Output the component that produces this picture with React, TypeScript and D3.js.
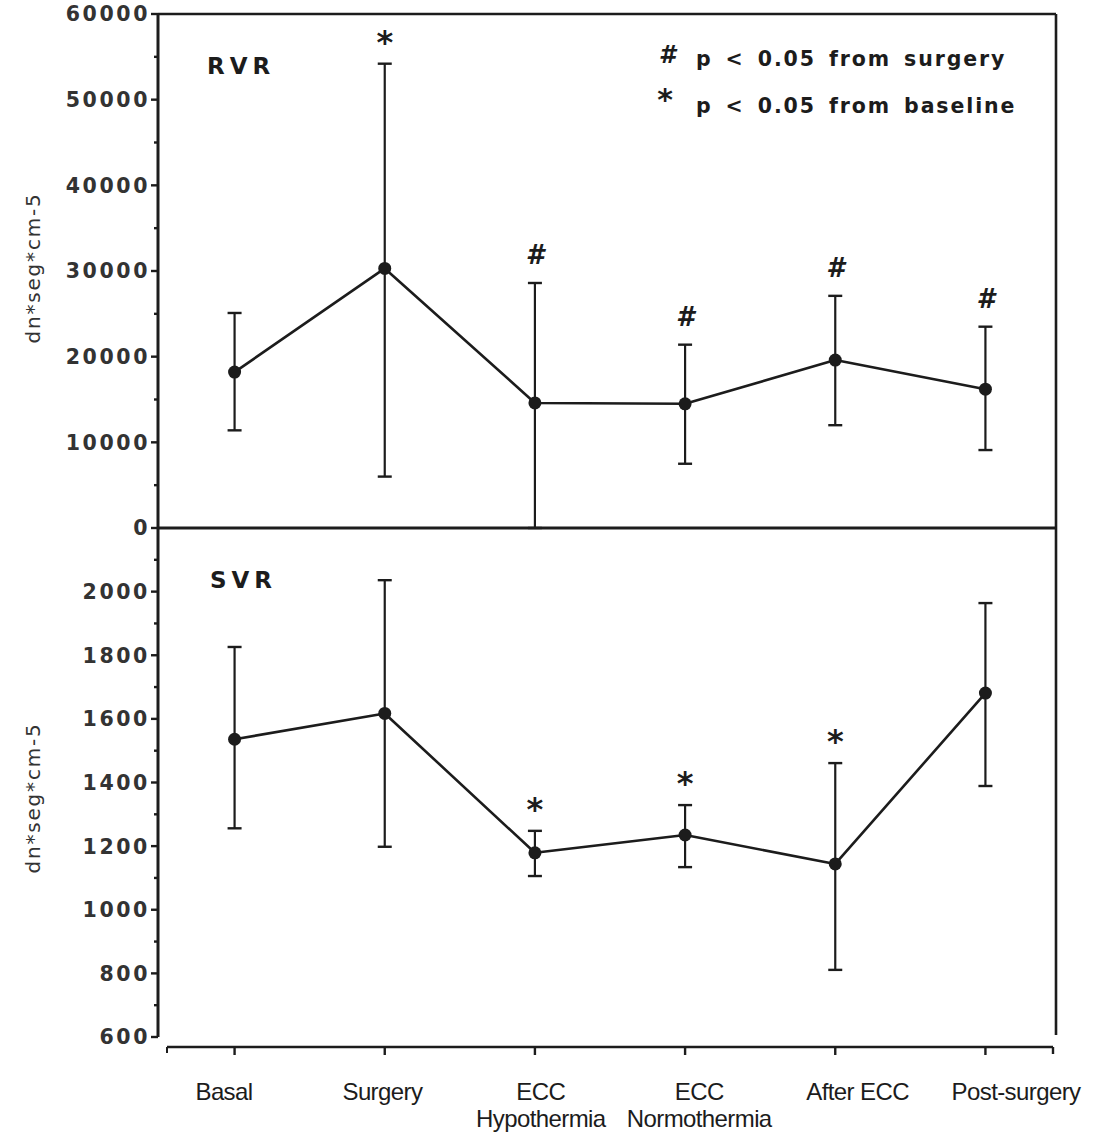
import React from "react";
import * as d3 from "d3";

// Category labels (two lines per category)
const catLine1 = ["Basal", "Surgery", "ECC", "ECC", "After ECC", "Post-surgery"];
const catLine2 = ["", "", "Hypothermia", "Normothermia", "", ""];

// Renal vascular resistance (dn*seg*cm-5): mean, upper and lower error limits
const rvrMean = [18200, 30300, 14600, 14500, 19600, 16200];
const rvrUpper = [25100, 54200, 28600, 21400, 27100, 23500];
const rvrLower = [11400, 6000, 0, 7500, 12000, 9100];
const rvrMarks = ["", "*", "#", "#", "#", "#"];

// Systemic vascular resistance (dn*seg*cm-5)
const svrMean = [1536, 1617, 1179, 1235, 1144, 1681];
const svrUpper = [1826, 2036, 1248, 1329, 1461, 1964];
const svrLower = [1256, 1198, 1106, 1134, 811, 1389];
const svrMarks = ["", "", "*", "*", "*", ""];

const rvrTicks = [0, 10000, 20000, 30000, 40000, 50000, 60000];
const svrTicks = [600, 800, 1000, 1200, 1400, 1600, 1800, 2000];

const legendLines = [
  { sym: "#", text: "p < 0.05 from surgery" },
  { sym: "*", text: "p < 0.05 from baseline" },
];

const W = 1095;
const H = 1139;
const INK = "#1c1c1c";
const LEFT = 158;
const RIGHT = 1056;
const TOP = 14;
const MID = 528;
const BOTTOM = 1037;
const XAXIS_Y = 1047;

const idx = catLine1.map((_, i) => i);
const x = d3.scalePoint<number>().domain(idx).range([167, 1053]).padding(0.45);
const xLabel = d3.scalePoint<number>().domain(idx).range([224, 1016]);
const yTop = d3.scaleLinear().domain([0, 60000]).range([MID, TOP]);
const yBot = d3.scaleLinear().domain([600, 2200]).range([BOTTOM, MID]);

const tickFont = "'DejaVu Sans', sans-serif";

function Series({
  mean, upper, lower, marks, y,
}: {
  mean: number[]; upper: number[]; lower: number[]; marks: string[];
  y: d3.ScaleLinear<number, number>;
}) {
  const line = d3
    .line<number>()
    .x((_, i) => x(i) as number)
    .y((d) => y(d));
  return (
    <g>
      {idx.map((i) => {
        const cx = x(i) as number;
        return (
          <g key={i}>
            <line x1={cx} x2={cx} y1={y(lower[i])} y2={y(upper[i])} stroke={INK} strokeWidth={2.2} />
            <line x1={cx - 7} x2={cx + 7} y1={y(upper[i])} y2={y(upper[i])} stroke={INK} strokeWidth={2.4} />
            <line x1={cx - 7} x2={cx + 7} y1={y(lower[i])} y2={y(lower[i])} stroke={INK} strokeWidth={2.4} />
          </g>
        );
      })}
      <path d={line(mean) || ""} fill="none" stroke={INK} strokeWidth={2.6} strokeLinejoin="round" />
      {idx.map((i) => (
        <circle key={i} cx={x(i) as number} cy={y(mean[i])} r={6.5} fill={INK} />
      ))}
      {idx.map((i) => {
        const m = marks[i];
        if (!m) return null;
        const cy = y(upper[i]) - 28;
        return m === "*" ? (
          <text key={i} x={x(i) as number} y={cy + 17} textAnchor="middle" fontFamily={tickFont}
            fontWeight="bold" fontSize={32} fill={INK}>*</text>
        ) : (
          <text key={i} x={x(i) as number} y={cy + 9.5} textAnchor="middle" fontFamily={tickFont}
            fontWeight="bold" fontSize={26} fontStyle="italic" fill={INK}>#</text>
        );
      })}
    </g>
  );
}

function YAxis({ y, ticks, minorStep, lo, hi }: {
  y: d3.ScaleLinear<number, number>; ticks: number[]; minorStep: number; lo: number; hi: number;
}) {
  const minor = d3.range(lo, hi + minorStep / 2, minorStep).filter((v) => !ticks.includes(v));
  return (
    <g>
      {ticks.map((t) => (
        <g key={t}>
          <line x1={LEFT - 7} x2={LEFT} y1={y(t)} y2={y(t)} stroke={INK} strokeWidth={2.4} />
          <text x={LEFT - 8} y={y(t)} dy="0.36em" textAnchor="end" fontFamily={tickFont}
            fontWeight="bold" fontSize={20.5} letterSpacing={2.6} fill="#333">{t}</text>
        </g>
      ))}
      {minor.map((t) => (
        <line key={t} x1={LEFT - 4} x2={LEFT} y1={y(t)} y2={y(t)} stroke={INK} strokeWidth={2.4} />
      ))}
    </g>
  );
}

export default function App() {
  return (
    <svg width={W} height={H} viewBox={`0 0 ${W} ${H}`}
      style={{ position: "absolute", left: 0, top: 0, display: "block", background: "#fff" }}>
      <rect width={W} height={H} fill="#fff" />

      {/* frame: top panel box, shared divider, right side of lower panel */}
      <line x1={LEFT} x2={RIGHT} y1={TOP} y2={TOP} stroke={INK} strokeWidth={2.6} />
      <line x1={LEFT} x2={RIGHT} y1={MID} y2={MID} stroke={INK} strokeWidth={3} />
      <line x1={RIGHT} x2={RIGHT} y1={TOP} y2={BOTTOM - 2} stroke={INK} strokeWidth={2.6} />
      <line x1={LEFT} x2={LEFT} y1={TOP} y2={BOTTOM} stroke={INK} strokeWidth={3} />

      <YAxis y={yTop} ticks={rvrTicks} minorStep={5000} lo={0} hi={60000} />
      <YAxis y={yBot} ticks={svrTicks} minorStep={100} lo={600} hi={2100} />

      {/* axis titles */}
      <text transform={`translate(40, ${268}) rotate(-90)`} textAnchor="middle" fontFamily={tickFont}
        fontSize={20} letterSpacing={1.8} fill="#333">dn*seg*cm-5</text>
      <text transform={`translate(40, ${798}) rotate(-90)`} textAnchor="middle" fontFamily={tickFont}
        fontSize={20} letterSpacing={1.8} fill="#333">dn*seg*cm-5</text>

      {/* panel names */}
      <text x={207} y={74} fontFamily={tickFont} fontWeight="bold" fontSize={23} letterSpacing={5} fill={INK}>RVR</text>
      <text x={210} y={588} fontFamily={tickFont} fontWeight="bold" fontSize={23} letterSpacing={5} fill={INK}>SVR</text>

      {/* significance legend */}
      {legendLines.map((l, i) => (
        <g key={i}>
          {l.sym === "#" ? (
            <text x={667} y={63} textAnchor="middle" fontFamily={tickFont} fontWeight="bold"
              fontSize={24} fontStyle="italic" fill={INK}>#</text>
          ) : (
            <text x={665} y={110} textAnchor="middle" fontFamily={tickFont} fontWeight="bold"
              fontSize={30} fill={INK}>*</text>
          )}
          <text x={696} y={i === 0 ? 66 : 113} fontFamily={tickFont} fontWeight="bold" fontSize={20.5}
            letterSpacing={1.9} wordSpacing={4} fill={INK}>{l.text}</text>
        </g>
      ))}

      <Series mean={rvrMean} upper={rvrUpper} lower={rvrLower} marks={rvrMarks} y={yTop} />
      <Series mean={svrMean} upper={svrUpper} lower={svrLower} marks={svrMarks} y={yBot} />

      {/* category axis */}
      <line x1={167} x2={1053} y1={XAXIS_Y} y2={XAXIS_Y} stroke={INK} strokeWidth={2.6} />
      <line x1={167} x2={167} y1={XAXIS_Y} y2={XAXIS_Y + 6} stroke={INK} strokeWidth={2} />
      <line x1={1053} x2={1053} y1={XAXIS_Y} y2={XAXIS_Y + 7} stroke={INK} strokeWidth={2.4} />
      {idx.map((i) => (
        <g key={i}>
          <line x1={x(i) as number} x2={x(i) as number} y1={XAXIS_Y} y2={XAXIS_Y + 8} stroke={INK} strokeWidth={2.4} />
          <text x={xLabel(i) as number} y={1100} textAnchor="middle" fontFamily="'Liberation Sans', Arial, sans-serif"
            fontSize={24} letterSpacing={-0.6} fill={INK}>{catLine1[i]}</text>
          {catLine2[i] && (
            <text x={xLabel(i) as number} y={1127} textAnchor="middle" fontFamily="'Liberation Sans', Arial, sans-serif"
              fontSize={24} letterSpacing={-0.6} fill={INK}>{catLine2[i]}</text>
          )}
        </g>
      ))}
    </svg>
  );
}
